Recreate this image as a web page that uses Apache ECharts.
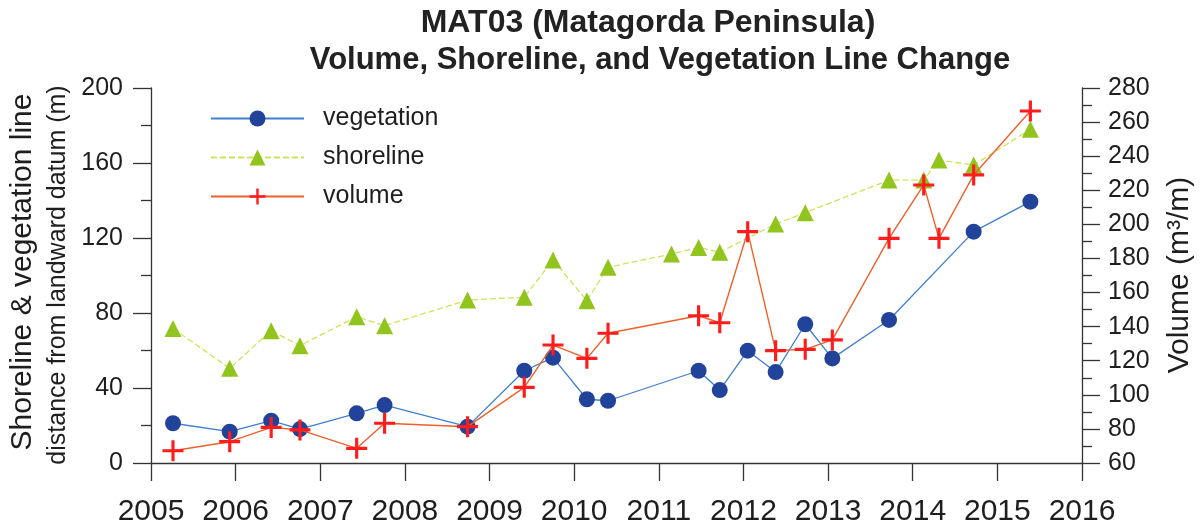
<!DOCTYPE html>
<html>
<head>
<meta charset="utf-8">
<script src="https://cdn.jsdelivr.net/npm/echarts@6/dist/echarts.min.js"></script>
<style>
  html, body { margin: 0; padding: 0; background: #fff; }
  #chart { width: 1202px; height: 527px; }
</style>
</head>
<body>
<div id="chart"></div>
<script>
// values
const vegYears = [2005.26, 2005.93, 2006.42, 2006.76, 2007.43, 2007.76, 2008.74, 2009.41, 2009.75, 2010.15,
  2010.40, 2011.47, 2011.72, 2012.05, 2012.38, 2012.73, 2013.05, 2013.72, 2014.72, 2015.39];
const vegValues = [21.2, 16.7, 22.6, 18.1, 26.5, 30.9, 19.4, 49.2, 56.2, 34.0,
  33.2, 49.2, 38.9, 59.9, 48.5, 74.0, 55.8, 76.3, 123.4, 139.4];

const shoreYears = [2005.26, 2005.93, 2006.42, 2006.76, 2007.43, 2007.76, 2008.74, 2009.41, 2009.75, 2010.15,
  2010.40, 2011.15, 2011.47, 2011.72, 2012.38, 2012.73, 2013.72, 2014.13, 2014.31, 2014.72, 2015.39];
const shoreValues = [71.8, 50.5, 70.6, 62.6, 78.0, 73.2, 86.9, 88.4, 108.3, 86.6,
  104.4, 111.5, 115.0, 112.4, 127.5, 133.5, 150.9, 150.9, 161.6, 158.9, 178.0];

const volYears = [2005.26, 2005.93, 2006.42, 2006.76, 2007.43, 2007.76, 2008.74, 2009.41, 2009.75, 2010.15,
  2010.40, 2011.47, 2011.72, 2012.05, 2012.38, 2012.73, 2013.05, 2013.72, 2014.13, 2014.31, 2014.72, 2015.39];
const volValues = [67.2, 72.5, 80.9, 79.4, 68.6, 83.3, 81.3, 104.4, 129.2, 121.4,
  136.1, 146.4, 142.3, 195.7, 125.9, 126.7, 132.2, 191.8, 223.1, 191.8, 229.0, 266.5];

const seriesNames = ['vegetation', 'shoreline', 'volume'];

const pairs = (xs, ys) => xs.map((x, i) => [x, ys[i]]);

const FONT = '"Liberation Sans", Arial, sans-serif';
const TXT = '#1e1e1e';
const CROSS = 'path://M8.5,0 h3 v8.5 h8.5 v3 h-8.5 v8.5 h-3 v-8.5 h-8.5 v-3 h8.5 z';

const chart = echarts.init(document.getElementById('chart'));

const option = {
  backgroundColor: '#fff',
  animation: false,
  grid: { left: 151, right: 120, top: 88, bottom: 64 },
  legend: {
    data: seriesNames,
    orient: 'vertical',
    left: 205,
    top: 101,
    itemWidth: 93,
    itemHeight: 20,
    itemGap: 14,
    textStyle: { fontFamily: FONT, fontSize: 25, color: TXT, padding: [0, 0, 0, 14] }
  },
  xAxis: {
    type: 'value',
    min: 2005,
    max: 2016,
    interval: 1,
    axisLine: { lineStyle: { color: '#333', width: 1.3 } },
    axisTick: { inside: false, length: 18, lineStyle: { color: '#333', width: 1.3 } },
    splitLine: { show: false },
    axisLabel: { margin: 34, fontFamily: FONT, fontSize: 30, color: TXT, formatter: v => String(v) }
  },
  yAxis: [
    {
      type: 'value',
      position: 'left',
      min: 0,
      max: 200,
      interval: 40,
      axisLine: { show: true, lineStyle: { color: '#333', width: 1.3 } },
      axisTick: { show: true, length: 18, lineStyle: { color: '#333', width: 1.3 } },
      minorTick: { show: true, splitNumber: 2, length: 10, lineStyle: { color: '#333', width: 1.3 } },
      splitLine: { show: false },
      axisLabel: { margin: 28, fontFamily: FONT, fontSize: 25, color: TXT }
    },
    {
      type: 'value',
      position: 'right',
      min: 60,
      max: 280,
      interval: 20,
      axisLine: { show: true, lineStyle: { color: '#333', width: 1.3 } },
      axisTick: { show: true, length: 18, lineStyle: { color: '#333', width: 1.3 } },
      minorTick: { show: true, splitNumber: 2, length: 10, lineStyle: { color: '#333', width: 1.3 } },
      splitLine: { show: false },
      axisLabel: { margin: 26, fontFamily: FONT, fontSize: 25, color: TXT }
    }
  ],
  series: [
    {
      name: 'vegetation',
      type: 'line',
      yAxisIndex: 0,
      z: 3,
      data: pairs(vegYears, vegValues),
      symbol: 'circle',
      symbolSize: 16,
      itemStyle: { color: '#22439a' },
      lineStyle: { color: '#3f7fcf', width: 1.3 }
    },
    {
      name: 'shoreline',
      type: 'line',
      yAxisIndex: 0,
      z: 2,
      data: pairs(shoreYears, shoreValues),
      symbol: 'triangle',
      symbolSize: 17,
      itemStyle: { color: '#92c41e' },
      lineStyle: { color: '#cfe35a', width: 1.3, type: [6, 3] }
    },
    {
      name: 'volume',
      type: 'line',
      yAxisIndex: 1,
      z: 4,
      data: pairs(volYears, volValues),
      symbol: CROSS,
      symbolSize: 21,
      itemStyle: { color: '#ff1c1c' },
      lineStyle: { color: '#f0602a', width: 1.4 }
    }
  ],
  graphic: [
    {
      type: 'text', x: 648, y: 23,
      style: { text: 'MAT03 (Matagorda Peninsula)', font: 'bold 32px ' + FONT, fill: '#222',
        textAlign: 'center', textVerticalAlign: 'middle' }
    },
    {
      type: 'text', x: 660, y: 60,
      style: { text: 'Volume, Shoreline, and Vegetation Line Change', font: 'bold 31px ' + FONT, fill: '#222',
        textAlign: 'center', textVerticalAlign: 'middle' }
    },
    {
      type: 'text', x: 23, y: 272, rotation: Math.PI / 2,
      style: { text: 'Shoreline & vegetation line', font: '30px ' + FONT, fill: TXT,
        textAlign: 'center', textVerticalAlign: 'middle' }
    },
    {
      type: 'text', x: 58, y: 275, rotation: Math.PI / 2,
      style: { text: 'distance from landward datum (m)', font: '25px ' + FONT, fill: TXT,
        textAlign: 'center', textVerticalAlign: 'middle' }
    },
    {
      type: 'text', x: 1180, y: 275, rotation: Math.PI / 2,
      style: { text: 'Volume (m³/m)', font: '30px ' + FONT, fill: TXT,
        textAlign: 'center', textVerticalAlign: 'middle' }
    }
  ]
};

chart.setOption(option);
window.addEventListener('resize', chart.resize);
</script>
</body>
</html>
